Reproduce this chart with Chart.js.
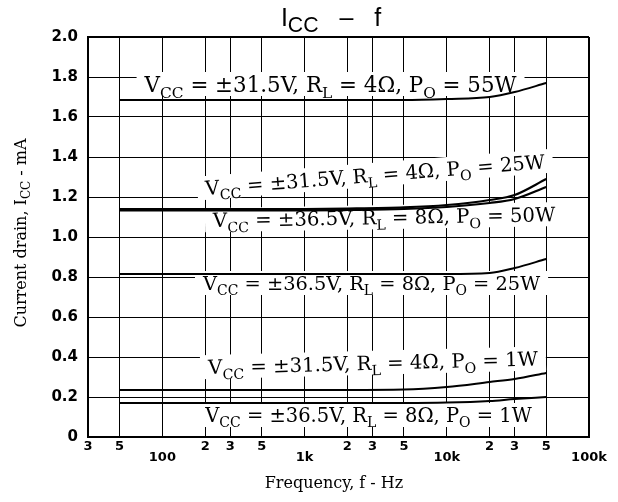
<!DOCTYPE html>
<html><head><meta charset="utf-8">
<script src="https://cdn.jsdelivr.net/npm/chart.js@4.4.0/dist/chart.umd.min.js"></script>
<style>html,body{margin:0;padding:0;background:#fff}#wrap{width:618px;height:502px;position:relative}</style>
</head><body><div id="wrap"><canvas id="c"></canvas></div>
<script>
// ---- data ----
const freqs = [50, 100, 200, 500, 1000, 2000, 5000, 10000, 20000, 30000, 50000];
const s55W_315 = [1.685, 1.685, 1.685, 1.685, 1.685, 1.685, 1.685, 1.69, 1.70, 1.725, 1.77];
const s25W_315 = [1.14, 1.14, 1.14, 1.14, 1.14, 1.142, 1.148, 1.16, 1.185, 1.21, 1.29];
const s50W_365 = [1.133, 1.133, 1.133, 1.133, 1.133, 1.135, 1.14, 1.15, 1.17, 1.19, 1.25];
const s25W_365 = [0.815, 0.815, 0.815, 0.815, 0.815, 0.815, 0.815, 0.815, 0.82, 0.845, 0.89];
const s1W_315 = [0.235, 0.235, 0.235, 0.235, 0.235, 0.235, 0.237, 0.25, 0.275, 0.29, 0.32];
const s1W_365 = [0.17, 0.17, 0.17, 0.17, 0.17, 0.17, 0.17, 0.172, 0.18, 0.19, 0.2];
const seriesNames = [
  'V_{CC} = ±31.5V, R_{L} = 4Ω, P_{O} = 55W',
  'V_{CC} = ±31.5V, R_{L} = 4Ω, P_{O} = 25W',
  'V_{CC} = ±36.5V, R_{L} = 8Ω, P_{O} = 50W',
  'V_{CC} = ±36.5V, R_{L} = 8Ω, P_{O} = 25W',
  'V_{CC} = ±31.5V, R_{L} = 4Ω, P_{O} = 1W',
  'V_{CC} = ±36.5V, R_{L} = 8Ω, P_{O} = 1W'
];
const xTickValues = [30, 50, 100, 200, 300, 500, 1000, 2000, 3000, 5000, 10000, 20000, 30000, 50000, 100000];
const xTickLabels = ['3', '5', '100', '2', '3', '5', '1k', '2', '3', '5', '10k', '2', '3', '5', '100k'];
const yTickValues = [0, 0.2, 0.4, 0.6, 0.8, 1.0, 1.2, 1.4, 1.6, 1.8, 2.0];
const yTickLabels = ['0', '0.2', '0.4', '0.6', '0.8', '1.0', '1.2', '1.4', '1.6', '1.8', '2.0'];
const chartTitle = 'I_{CC}   –   f';
const xTitle = 'Frequency, f - Hz';
const yTitle = 'Current drain, I_{CC} - mA';

// label placement: left-edge frequency, centre value, angle (deg), font size (px)
const labelAnchors = [[75, 1.765, 0, 21.4], [200, 1.245, -4.5, 19.6], [227, 1.085, -1, 19.7], [193, 0.77, 0, 19.4], [210, 0.35, -1.5, 19.7], [200, 0.11, 0, 19.5]];

const seriesData = [s55W_315, s25W_315, s50W_365, s25W_365, s1W_315, s1W_365];

// ---- rich text helpers ----
function parseRich(s) {
  const segs = []; const re = /_\{([^}]*)\}/g; let last = 0, m;
  while ((m = re.exec(s))) {
    if (m.index > last) segs.push({ t: s.slice(last, m.index), sub: false });
    segs.push({ t: m[1], sub: true }); last = re.lastIndex;
  }
  if (last < s.length) segs.push({ t: s.slice(last), sub: false });
  return segs;
}
function richWidth(ctx, segs, size, family, weight, subScale) {
  let w = 0;
  for (const sg of segs) {
    ctx.font = `${weight} ${sg.sub ? size * subScale : size}px ${family}`;
    w += ctx.measureText(sg.t).width;
  }
  return w;
}
function drawRich(ctx, s, x, yBase, size, family, weight, subScale, subDrop, align) {
  const segs = parseRich(s);
  const w = richWidth(ctx, segs, size, family, weight, subScale);
  let cx = align === 'center' ? x - w / 2 : (align === 'right' ? x - w : x);
  ctx.textBaseline = 'alphabetic'; ctx.textAlign = 'left';
  for (const sg of segs) {
    ctx.font = `${weight} ${sg.sub ? size * subScale : size}px ${family}`;
    ctx.fillText(sg.t, cx, yBase + (sg.sub ? size * subDrop : 0));
    cx += ctx.measureText(sg.t).width;
  }
  return w;
}

const annotPlugin = {
  id: 'annot',
  beforeDatasetsDraw(chart) {
    const ctx = chart.ctx, xs = chart.scales.x, ys = chart.scales.y;
    const fam = '"DejaVu Serif", serif';
    seriesNames.forEach((name, i) => {
      const [f, v, ang, size] = labelAnchors[i];
      const x0 = xs.getPixelForValue(f), y0 = ys.getPixelForValue(v);
      const segs = parseRich(name);
      const w = richWidth(ctx, segs, size, fam, 'normal', 0.72);
      ctx.save();
      ctx.translate(x0, y0);
      ctx.rotate(ang * Math.PI / 180);
      ctx.fillStyle = '#fff';
      ctx.fillRect(-8, -12, w + 16, 24);
      ctx.fillStyle = '#000';
      drawRich(ctx, name, 0, size * 0.36, size, fam, 'normal', 0.72, 0.28, 'left');
      ctx.restore();
    });
  },
  afterDraw(chart) {
    const ctx = chart.ctx, area = chart.chartArea;
    ctx.save();
    ctx.fillStyle = '#000';
    // chart title
    drawRich(ctx, chartTitle, 331, 26, 25, '"Liberation Sans", Arial, sans-serif', 'normal', 0.85, 0.25, 'center');
    // x title
    drawRich(ctx, xTitle, 334, 488, 16, '"DejaVu Serif", serif', 'normal', 0.75, 0.28, 'center');
    // y title
    ctx.translate(26, (area.top + area.bottom) / 2 - 4);
    ctx.rotate(-Math.PI / 2);
    drawRich(ctx, yTitle, 0, 0, 16, '"DejaVu Serif", serif', 'normal', 0.75, 0.28, 'center');
    ctx.restore();
  }
};

const edgeWidth = (ctx) => (ctx.tick && (ctx.index === 0 || ctx.index === ctx.chart.scales[ctx.scale.id].ticks.length - 1)) ? 2 : 1;

new Chart(document.getElementById('c'), {
  type: 'line',
  data: {
    datasets: seriesData.map((arr, i) => ({
      label: seriesNames[i],
      data: arr.map((v, j) => ({ x: freqs[j], y: v })),
      borderColor: '#000',
      borderWidth: i === 1 || i === 2 ? 2.2 : 2,
      pointRadius: 0,
      cubicInterpolationMode: 'monotone',
      fill: false
    }))
  },
  options: {
    responsive: true,
    maintainAspectRatio: false,
    animation: false,
    devicePixelRatio: 1,
    layout: { padding: { left: 0, right: 29, top: 37, bottom: 0 } },
    plugins: { legend: { display: false }, tooltip: { enabled: false }, title: { display: false } },
    scales: {
      x: {
        type: 'logarithmic', min: 30, max: 100000,
        afterBuildTicks(scale) { scale.ticks = xTickValues.map(v => ({ value: v })); },
        afterFit(scale) { scale.height = 65; },
        ticks: {
          autoSkip: false, maxRotation: 0, minRotation: 0, padding: 4, color: '#000',
          font: { family: '"DejaVu Sans", sans-serif', size: 13, weight: 'bold', lineHeight: 0.85 },
          callback(value, index) {
            const lab = xTickLabels[index];
            return /^\d$/.test(lab) ? lab : ['', lab];
          }
        },
        grid: { color: '#000', lineWidth: edgeWidth, drawTicks: false },
        border: { display: true, color: '#000', width: 2 }
      },
      y: {
        type: 'linear', min: 0, max: 2.0,
        afterBuildTicks(scale) { scale.ticks = yTickValues.map(v => ({ value: v })); },
        afterFit(scale) { scale.width = 88; },
        ticks: {
          padding: 10, color: '#000',
          font: { family: '"DejaVu Sans", sans-serif', size: 15, weight: 'bold' },
          callback(value, index) { return yTickLabels[index]; }
        },
        grid: { color: '#000', lineWidth: edgeWidth, drawTicks: false },
        border: { display: true, color: '#000', width: 2 }
      }
    }
  },
  plugins: [annotPlugin]
});
</script>
</body></html>
